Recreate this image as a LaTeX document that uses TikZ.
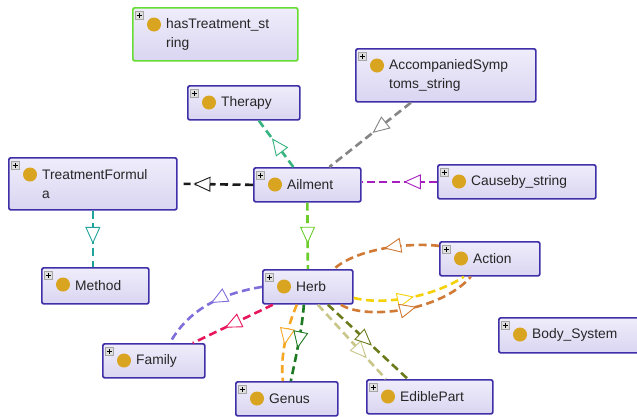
\documentclass[tikz,border=0pt]{standalone}
\usepackage[usenames,dvipsnames]{xcolor}
\usepackage{fontspec}
\setmainfont{Liberation Sans}
\usetikzlibrary{arrows.meta,decorations.markings,calc}

\definecolor{classtop}{HTML}{EFEDFB}
\definecolor{classbot}{HTML}{DAD5F1}
\definecolor{classline}{HTML}{3F30A8}
\definecolor{treatline}{HTML}{66DD33}
\definecolor{gold}{HTML}{D9A520}
\definecolor{therapyc}{HTML}{36B37E}
\definecolor{graye}{HTML}{858585}
\definecolor{blacke}{HTML}{1A1A1A}
\definecolor{purplee}{HTML}{A51FBF}
\definecolor{greene}{HTML}{6ACD2A}
\definecolor{teale}{HTML}{21A39B}
\definecolor{lavendere}{HTML}{7F6FDB}
\definecolor{crimsone}{HTML}{E6175C}
\definecolor{orangee}{HTML}{F5A623}
\definecolor{dgreene}{HTML}{1D7A22}
\definecolor{khakie}{HTML}{C9C68A}
\definecolor{olivee}{HTML}{6B7A1A}
\definecolor{browne}{HTML}{D07A35}
\definecolor{yellowe}{HTML}{F5D10A}

\begin{document}
\begin{tikzpicture}[x=1pt,y=-1pt]
    \tikzstyle{ClassStyle}=[rectangle, rounded corners=2pt, draw=classline, line width=1.7pt, top color=classtop, bottom color=classbot, inner sep=0pt, anchor=north west]
    \tikzstyle{LabelStyle}=[anchor=west, align=left, inner sep=0pt, text=black!85, font=\fontsize{13.8}{19}\selectfont]
    \tikzstyle{PlusStyle}=[fill=gray!25, draw=gray!70, line width=0.6pt]
    \tikzstyle{EdgeStyle}=[line width=2.6pt, dash pattern=on 8pt off 4.5pt]
    \tikzset{isa/.style={postaction=decorate, decoration={markings, mark=at position #1 with {\arrow{Triangle[length=17pt,width=15pt,line width=0.9pt,fill=white]}}}}}
   \clip (0,0) rectangle (637,416);
   \fill[white] (0,0) rectangle (637,416);
   \node[ClassStyle, draw=treatline, minimum width=165pt, minimum height=53pt] (hast) at (132,7) {};
   \node[ClassStyle, minimum width=112pt, minimum height=34pt] (thr) at (187,85) {};
   \node[ClassStyle, minimum width=180pt, minimum height=53pt] (acc) at (355,48) {};
   \node[ClassStyle, minimum width=168pt, minimum height=52pt] (tf) at (8,157) {};
   \node[ClassStyle, minimum width=107pt, minimum height=34pt] (ail) at (253,167) {};
   \node[ClassStyle, minimum width=158pt, minimum height=34pt] (cause) at (437,164) {};
   \node[ClassStyle, minimum width=107pt, minimum height=36pt] (meth) at (41,267) {};
   \node[ClassStyle, minimum width=90pt, minimum height=34pt] (herb) at (262,269) {};
   \node[ClassStyle, minimum width=100pt, minimum height=34pt] (act) at (439,241) {};
   \node[ClassStyle, minimum width=150pt, minimum height=35pt] (body) at (498,317) {};
   \node[ClassStyle, minimum width=102pt, minimum height=34pt] (fam) at (102,343) {};
   \node[ClassStyle, minimum width=102pt, minimum height=34pt] (gen) at (235,381) {};
   \node[ClassStyle, minimum width=126pt, minimum height=34pt] (edp) at (366,379) {};
   \foreach \nm/\lab in {hast/hasTreatment\_st\\ring, thr/Therapy, acc/AccompaniedSymp\\toms\_string, tf/TreatmentFormul\\a, ail/Ailment, cause/Causeby\_string, meth/Method, herb/Herb, act/Action, body/Body\_System, fam/Family, gen/Genus, edp/EdiblePart}{
      \draw[PlusStyle] ($(\nm.north west)+(3,4)$) rectangle +(8,8);
      \draw[line width=0.8pt] ($(\nm.north west)+(4.5,8)$) -- +(5,0) ($(\nm.north west)+(7,5.5)$) -- +(0,5);
      \fill[gold] ($(\nm.north west)+(22,17.5)$) circle (7pt);
      \node[LabelStyle] (\nm-t) at ($(\nm.west)+(34,0)$) {\lab};
   }
   % Ailment links
   \draw[EdgeStyle, therapyc, isa=0.62] ([xshift=-14pt]ail.north) -- ([xshift=15pt]thr.south);
   \draw[EdgeStyle, graye, isa=0.47] ([xshift=-35pt]acc.south) -- ([xshift=22pt]ail.north);
   \draw[EdgeStyle, blacke, isa=0.86] (ail.west) -- ([xshift=6pt]tf.east);
   \draw[EdgeStyle, purplee, isa=0.44] (cause.west) -- (cause.west -| ail.east);
   \draw[EdgeStyle, greene, isa=0.62] (ail.south) -- (herb.north);
   \draw[EdgeStyle, teale, isa=0.59] (tf.south) -- (tf.south |- meth.north);
   % Herb links
   \draw[EdgeStyle, lavendere, isa=0.48] (herb.west) .. controls (232,292) and (192,303) .. ([xshift=16pt]fam.north);
   \draw[EdgeStyle, crimsone, isa=0.6] ([xshift=-35pt]herb.south) -- ([xshift=39pt]fam.north);
   \draw[EdgeStyle, orangee, isa=0.54] ([xshift=-11pt]herb.south) .. controls (287,328) and (280,355) .. ([xshift=-4pt]gen.north);
   \draw[EdgeStyle, dgreene, isa=0.57] ([xshift=-4pt]herb.south) .. controls (302,330) and (296,356) .. ([xshift=4pt]gen.north);
   \draw[EdgeStyle, khakie, isa=0.72] ([xshift=10pt]herb.south) -- ([xshift=-44pt]edp.north);
   \draw[EdgeStyle, olivee, isa=0.55] ([xshift=20pt]herb.south) -- ([xshift=-22pt]edp.north);
   \draw[EdgeStyle, browne, isa=0.5] ([yshift=13pt]act.west) .. controls (405,242) and (355,250) .. ([xshift=26pt]herb.north);
   \draw[EdgeStyle, yellowe, isa=0.53] ([yshift=-11pt]herb.east) .. controls (385,306) and (435,296) .. ([xshift=-26pt]act.south);
   \draw[EdgeStyle, browne, isa=0.55] ([xshift=33pt]herb.south) .. controls (365,320) and (440,312) .. ([xshift=-19pt]act.south);
  \end{tikzpicture}
\end{document}
